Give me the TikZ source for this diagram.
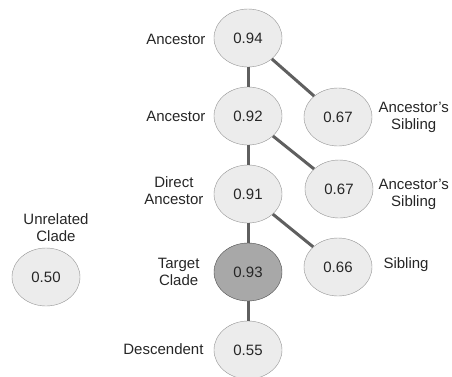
\documentclass[tikz,border=0pt]{standalone}
\usepackage{fontspec}
\setmainfont{Liberation Sans}
\usetikzlibrary{shapes.geometric}
\definecolor{cladefill}{HTML}{ECECEC}
\definecolor{targetfill}{HTML}{A8A8A8}
\definecolor{linkcolor}{HTML}{5F5F5F}

\begin{document}
\begin{tikzpicture}[x=1pt, y=-1pt, font=\fontsize{15}{17}\selectfont, text=black!85,
    clade/.style={ellipse, draw=gray!85, fill=cladefill, minimum width=68pt, minimum height=58pt, inner sep=0pt},
    target/.style={clade, fill=targetfill, draw=gray!60!black},
    link/.style={line width=3pt, color=linkcolor},
    lbl/.style={align=center}]
    \useasboundingbox (0,0) rectangle (452,376);

    % main line
    \node[clade] (anc1) at (248,38) {0.94};
    \node[clade] (anc2) at (248,116) {0.92};
    \node[clade] (dir) at (248,194) {0.91};
    \node[target] (tgt) at (248,272) {0.93};
    \node[clade] (desc) at (248,350) {0.55};

    % side branches
    \node[clade] (sib1) at (338,117) {0.67};
    \node[clade] (sib2) at (339,189) {0.67};
    \node[clade] (sib3) at (338,267) {0.66};
    \node[clade] (unrel) at (46,277) {0.50};

    \draw[link] (anc1) -- (anc2);
    \draw[link] (anc2) -- (dir);
    \draw[link] (dir) -- (tgt);
    \draw[link] (tgt) -- (desc);
    \draw[link] (anc1) -- (sib1);
    \draw[link] (anc2) -- (sib2);
    \draw[link] (dir) -- (sib3);

    % labels
    \node[lbl, anchor=east] (lanc1) at (209,39) {Ancestor};
    \node[lbl, anchor=east] (lanc2) at (209,116) {Ancestor};
    \node[lbl, anchor=east] (ldir) at (207,191) {Direct\\Ancestor};
    \node[lbl, anchor=east] (ltgt) at (203,272) {Target\\Clade};
    \node[lbl, anchor=east] (ldesc) at (207,349) {Descendent};
    \node[lbl] (lunrel) at (56,228) {Unrelated\\Clade};
    \node[lbl, anchor=west] (lsib1) at (375,117) {Ancestor’s\\Sibling};
    \node[lbl, anchor=west] (lsib2) at (375,194) {Ancestor’s\\Sibling};
    \node[lbl, anchor=west] (lsib3) at (380,265) {Sibling};
\end{tikzpicture}
\end{document}
